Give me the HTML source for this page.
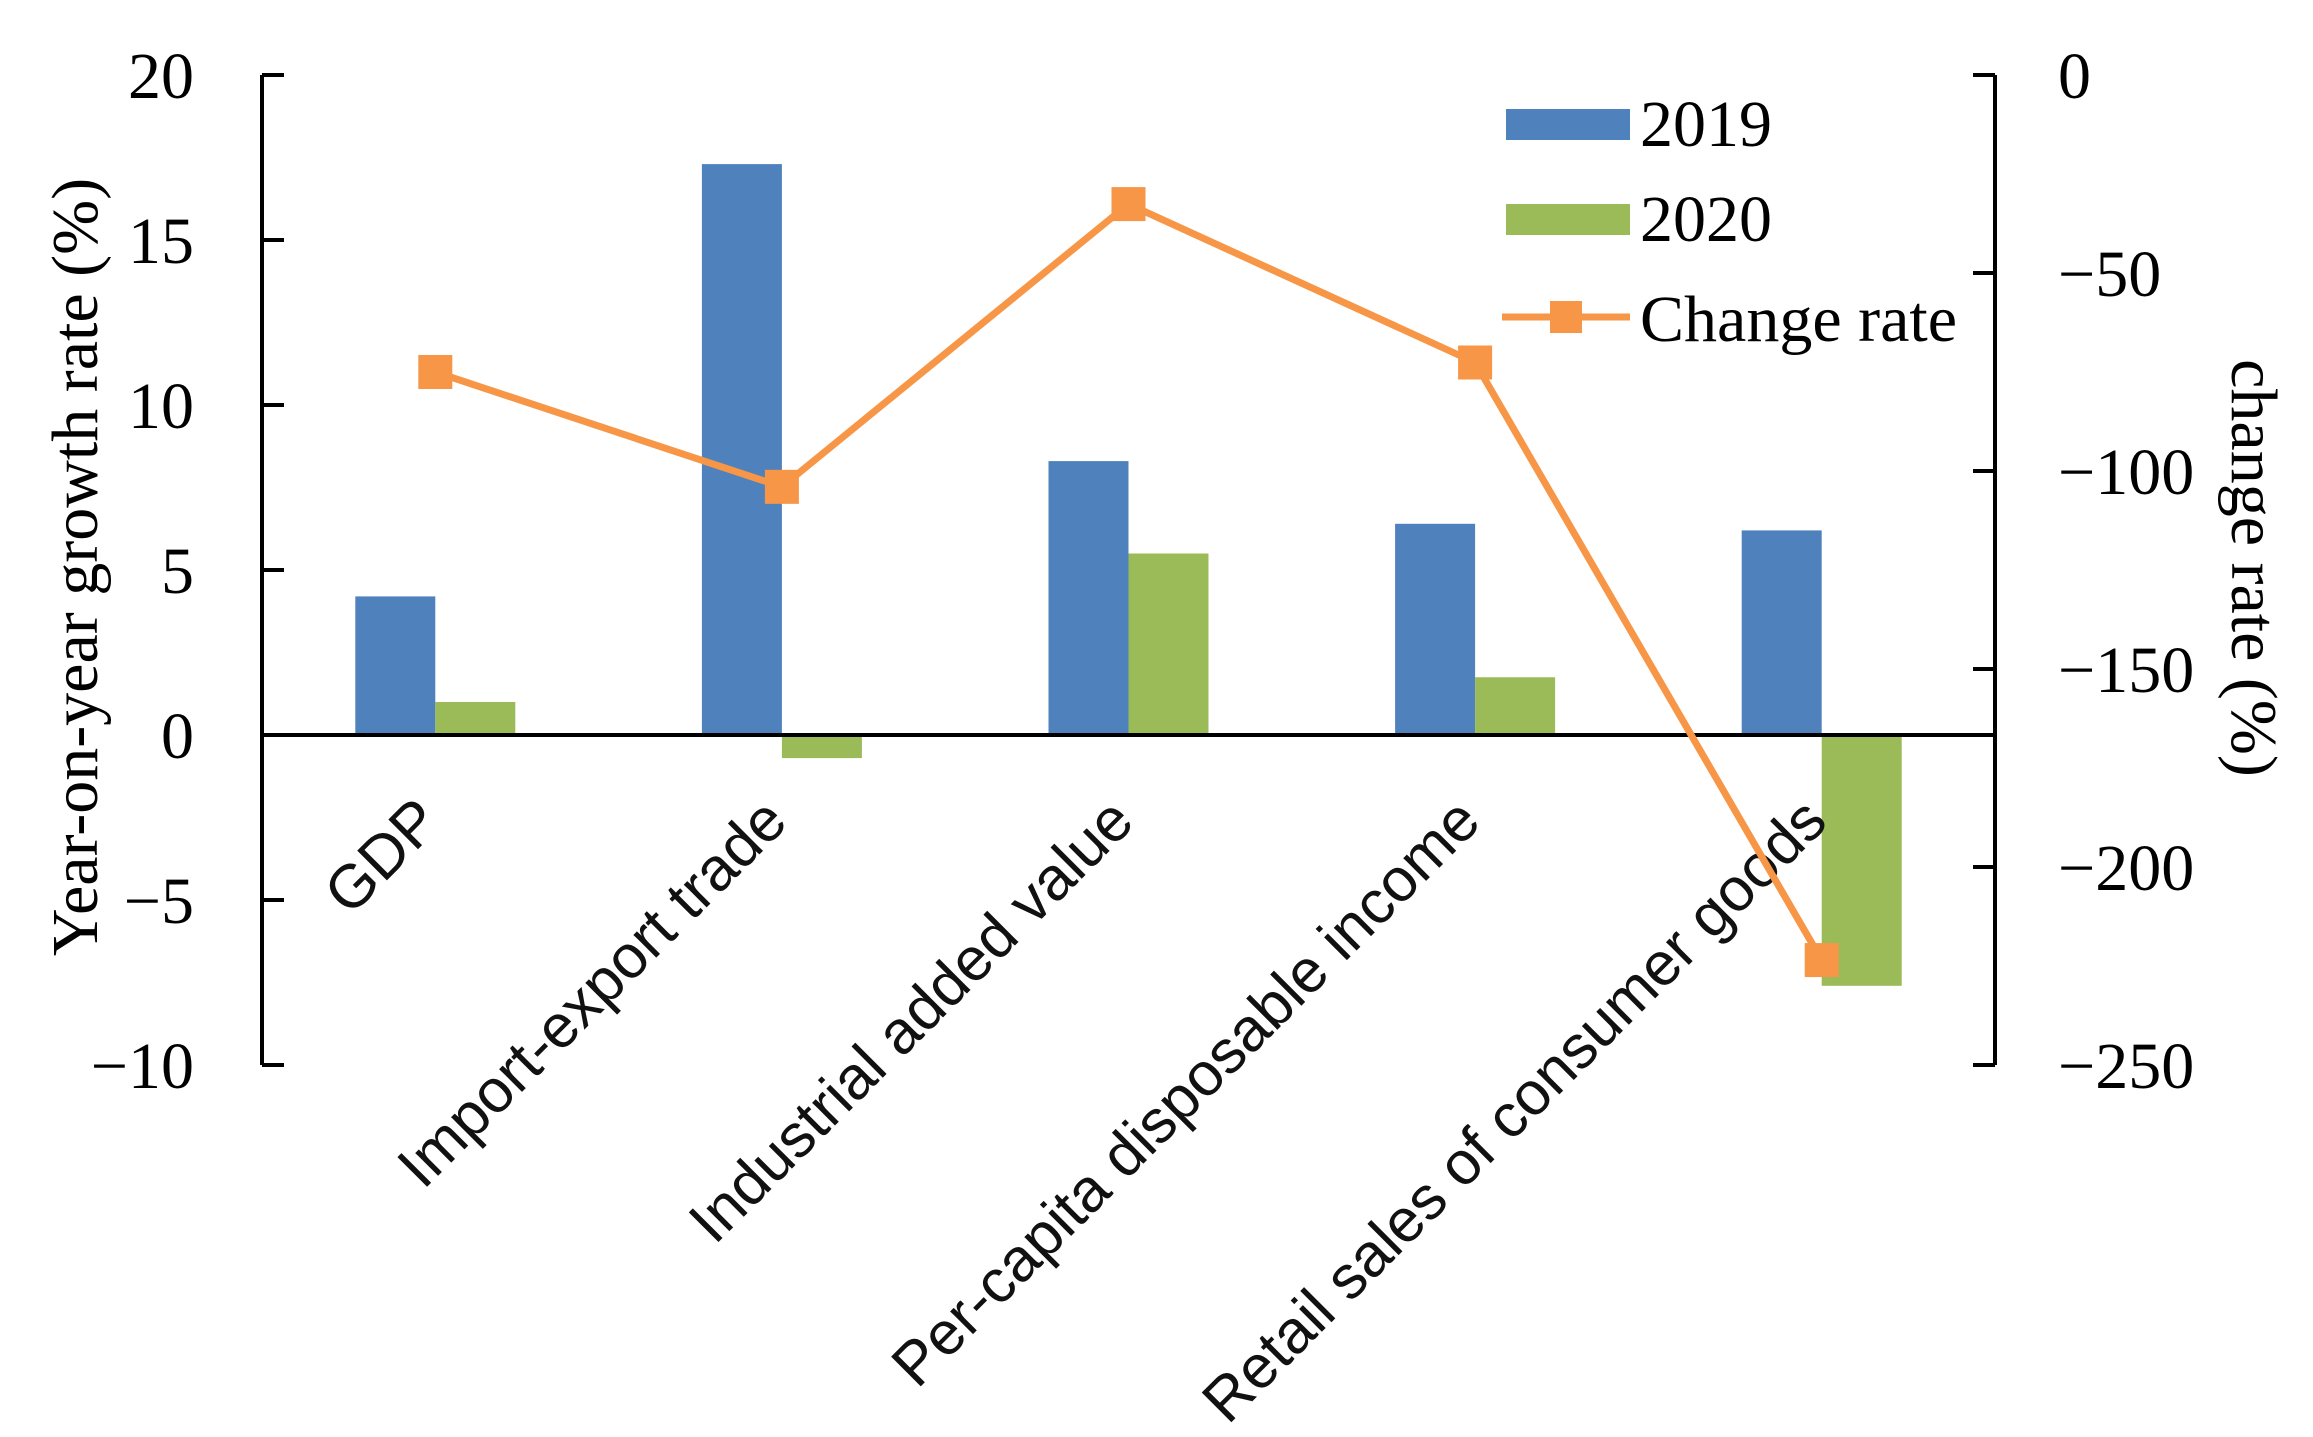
<!DOCTYPE html>
<html><head><meta charset="utf-8"><style>
html,body{margin:0;padding:0;background:#fff;}
svg{display:block;}
.tk{font-family:"Liberation Serif",serif;font-size:66px;fill:#000;}
.cat{font-family:"Liberation Sans",sans-serif;font-size:61px;fill:#111;}
</style></head><body>
<svg id="chart" width="2313" height="1437" viewBox="0 0 2313 1437" xmlns="http://www.w3.org/2000/svg">
<g id="bars"></g>
<g id="axes"></g>
<g id="line"></g>
<g id="legend">
  <rect x="1506" y="109" width="124" height="31" fill="#4F81BD"/>
  <text class="tk" x="1640" y="146">2019</text>
  <rect x="1506" y="204" width="124" height="31" fill="#9BBB59"/>
  <text class="tk" x="1640" y="241">2020</text>
  <line x1="1502" y1="317" x2="1630" y2="317" stroke="#F79646" stroke-width="7"/>
  <rect x="1550" y="301" width="32" height="32" fill="#F79646"/>
  <text class="tk" x="1640" y="341">Change rate</text>
</g>
<text class="tk" font-size="63" transform="translate(97,567) rotate(-90)" text-anchor="middle">Year-on-year growth rate (%)</text>
<text class="tk" font-size="63" transform="translate(2232,568) rotate(90)" text-anchor="middle">change rate (%)</text>
</svg>
<script>
const categories = ["GDP","Import-export trade","Industrial added value","Per-capita disposable income","Retail sales of consumer goods"];
const values2019 = [4.2, 17.3, 8.3, 6.4, 6.2];
const values2020 = [1.0, -0.7, 5.5, 1.75, -7.6];
const changeRate = [-75, -104, -32.6, -72.6, -223.5];
const leftTicks = [20, 15, 10, 5, 0, -5, -10];
const rightTicks = [0, -50, -100, -150, -200, -250];

const NS = "http://www.w3.org/2000/svg";
const X0 = 262, X1 = 1995, YT = 75, YB = 1065;
const yL = v => YT + (20 - v) / 30 * (YB - YT);
const yR = v => YT + (0 - v) / 250 * (YB - YT);
const step = (X1 - X0) / categories.length;
const xc = i => X0 + step * (i + 0.5);
const BW = 80;
function mk(tag, attrs, parent) {
  const e = document.createElementNS(NS, tag);
  for (const k in attrs) e.setAttribute(k, attrs[k]);
  parent.appendChild(e);
  return e;
}
const bars = document.getElementById('bars');
const axes = document.getElementById('axes');
const lineG = document.getElementById('line');

categories.forEach((c, i) => {
  const z = yL(0);
  const y1 = yL(values2019[i]);
  const b1 = mk('rect', {x: xc(i) - BW, y: Math.min(y1, z), width: BW, height: Math.abs(z - y1), fill: '#4F81BD'}, bars);
  
  
  const y2 = yL(values2020[i]);
  const b2 = mk('rect', {x: xc(i), y: Math.min(y2, z), width: BW, height: Math.abs(z - y2), fill: '#9BBB59'}, bars);
  
  
  const t = mk('text', {class: 'cat', 'text-anchor': 'end', transform: 'translate(' + (xc(i) + 8) + ',824) rotate(-45)'}, axes);
  t.textContent = c;
  
  
});

const la = mk('line', {x1: X0, y1: YT, x2: X0, y2: YB, stroke: '#000', 'stroke-width': 4}, axes);


const ra = mk('line', {x1: X1, y1: YT, x2: X1, y2: YB, stroke: '#000', 'stroke-width': 4}, axes);


const za = mk('line', {x1: X0, y1: yL(0), x2: X1, y2: yL(0), stroke: '#000', 'stroke-width': 4}, axes);



leftTicks.forEach(v => {
  const tk = mk('line', {x1: X0, y1: yL(v), x2: X0 + 22, y2: yL(v), stroke: '#000', 'stroke-width': 4}, axes);
  
  
  const t = mk('text', {class: 'tk', x: 194, y: yL(v) + 23, 'text-anchor': 'end'}, axes);
  t.textContent = v < 0 ? '\u2212' + (-v) : String(v);
  
  
});
rightTicks.forEach(v => {
  const tk = mk('line', {x1: X1 - 22, y1: yR(v), x2: X1, y2: yR(v), stroke: '#000', 'stroke-width': 4}, axes);
  
  
  const t = mk('text', {class: 'tk', x: 2058, y: yR(v) + 23, 'text-anchor': 'start'}, axes);
  t.textContent = v < 0 ? '\u2212' + (-v) : String(v);
  
  
});

const pts = changeRate.map((v, i) => xc(i) + ',' + yR(v)).join(' ');
const pl = mk('polyline', {points: pts, fill: 'none', stroke: '#F79646', 'stroke-width': 7, 'stroke-linejoin': 'round'}, lineG);


changeRate.forEach((v, i) => {
  const m = mk('rect', {x: xc(i) - 17, y: yR(v) - 17, width: 34, height: 34, fill: '#F79646'}, lineG);
  
  
});
</script>
</body></html>
